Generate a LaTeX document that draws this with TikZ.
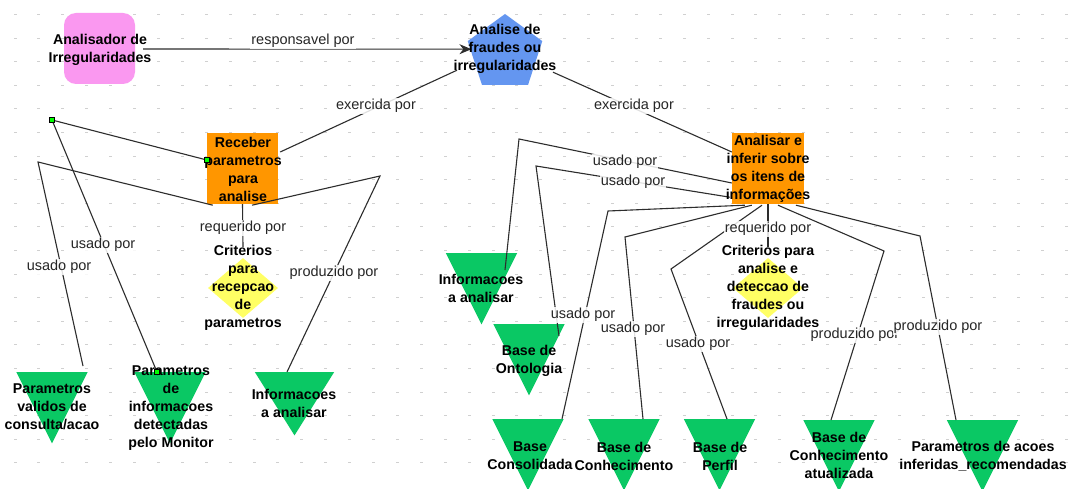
\documentclass[tikz,border=0pt]{standalone}
\usepackage{fontspec}
\setmainfont{Liberation Sans}
\usetikzlibrary{shapes.geometric,arrows.meta,calc}

\definecolor{gridgray}{RGB}{208,208,208}
\definecolor{pinkbox}{RGB}{250,152,240}
\definecolor{bluepent}{RGB}{100,150,240}
\definecolor{orangebox}{RGB}{255,150,0}
\definecolor{yellowdia}{RGB}{255,255,100}
\definecolor{greentri}{RGB}{10,200,100}
\definecolor{edgecol}{RGB}{45,45,45}

\begin{document}
\begin{tikzpicture}[x=1pt,y=-1pt,
  title/.style={font=\bfseries\fontsize{14.2}{18}\selectfont, align=center, inner sep=0pt, text=black},
  lbl/.style={font=\fontsize{14.5}{17}\selectfont, fill=white, fill opacity=0.85, text opacity=1, inner sep=1pt, text=black!85},
  box/.style={rectangle, inner sep=0pt, minimum width=71pt, minimum height=71pt},
  slot/.style={rectangle, inner sep=0pt, minimum width=71pt, minimum height=71pt, anchor=north},
  dia/.style={diamond, inner sep=0pt, minimum width=70pt, minimum height=60pt, fill=yellowdia},
  link/.style={draw=edgecol, line width=1.1pt},
  handle/.style={draw=black, fill=green, minimum size=5pt, inner sep=0pt, line width=0.6pt}
]
\useasboundingbox[fill=white] (0,0) rectangle (1070,489);

% dotted background grid
\foreach \i in {0,...,44}
  \foreach \j in {0,...,19}
    \fill[gridgray] ({15+23.9*\i-1.5},{14+23.6*\j}) rectangle ++(3,1);

% ---- shapes ----
\node[box, rounded corners=12pt, fill=pinkbox] (ana) at (99.5,48.5) {};
\node[regular polygon, regular polygon sides=5, minimum size=78.4pt, inner sep=0pt, fill=bluepent] (pent) at (505,53.2) {};
\node[box, fill=orangebox] (rec) at (242.5,168.5) {};
\node[box, fill=orangebox, minimum width=72pt] (anz) at (768,168.5) {};
\node[dia] (d1) at (243,288) {};
\node[dia] (d2) at (768,288) {};

% frames for the downward triangles
\node[slot] (t1) at (52,372) {};
\node[slot] (t2) at (170,372) {};
\node[slot, minimum width=79pt, minimum height=63pt] (t3) at (294.5,372) {};
\node[slot] (t4) at (481.5,253) {};
\node[slot] (t5) at (529,324) {};
\node[slot] (t6) at (528,419) {};
\node[slot] (t7) at (624,419) {};
\node[slot] (t8) at (719.5,419) {};
\node[slot] (t9) at (839,420) {};
\node[slot] (t10) at (982.5,420) {};
\foreach \t in {t1,t2,t3,t4,t5,t6,t7,t8,t9,t10}
  \fill[greentri] (\t.north west) -- (\t.north east) -- (\t.south) -- cycle;

% ---- bend points ----
\coordinate (b3) at (52,120);
\coordinate (b4) at (38,162);
\coordinate (b5) at (380,176);
\coordinate (b6) at (519,139);
\coordinate (b7) at (536,166);
\coordinate (b8) at (608,211);
\coordinate (b9) at (625,237);
\coordinate (b10) at (671,269);
\coordinate (b11) at (884,251);
\coordinate (b12) at (920,236);

% ---- connectors ----
\draw[link, -{Stealth[length=12pt,width=10pt]}] ($(ana.east)+(8,0.5)$) -- ($(pent.west)+(0,-4)$);
\draw[link] ($(pent.center)+(-48,17)$) -- ($(rec.east)+(2,-16.5)$);
\draw[link] ($(pent.center)+(48,19)$) -- ($(anz.west)+(0,-16.5)$);

\draw[link] ($(t2.north)+(-13,0)$) -- (b3) -- ($(rec.west)+(0,-8.5)$);
\draw[link] ($(t1.north)+(31,-6)$) -- (b4) -- ($(rec.south west)+(6,1)$);
\draw[link] ($(rec.south)+(9.5,1)$) -- (b5) -- ($(t3.north)+(-7.5,0)$);
\draw[link] (rec.south) -- ($(d1.north)+(0,-11)$);

\draw[link] ($(anz.west)+(0,14.5)$) -- (b6) -- ($(t4.north)+(23.5,17)$);
\draw[link] ($(anz.south west)+(-2,-7)$) -- (b7) -- ($(t5.north)+(30,12)$);
\draw[link] ($(anz.south west)+(13,1)$) -- (b8) -- ($(t6.north)+(34,0)$);
\draw[link] ($(anz.south west)+(20,1)$) -- (b9) -- ($(t7.north)+(19,0)$);
\draw[link] ($(anz.south)+(-6,1)$) -- (b10) -- ($(t8.north)+(7.5,0)$);
\draw[link] ($(anz.south)+(10,1)$) -- (b11) -- ($(t9.north)+(-8,0)$);
\draw[link] ($(anz.south)+(28,1)$) -- (b12) -- ($(t10.north)+(-26.5,0)$);
\draw[link] (anz.south) -- ($(d2.north)+(0,-11)$);

% ---- node texts ----
\node[title] (ana-t) at (100,50) {Analisador de\\Irregularidades};
\node[title] (pent-t) at (505,49) {Analise de\\fraudes ou\\irregularidades};
\node[title] (rec-t) at (243,169) {Receber\\parametros\\para\\analise};
\node[title] (anz-t) at (768,169) {Analisar e\\inferir sobre\\os itens de\\informações};
\node[title] (d1-t) at (243,288) {Criterios\\para\\recepcao\\de\\parametros};
\node[title] (d2-t) at (768,288) {Criterios para\\analise e\\deteccao de\\fraudes ou\\irregularidades};
\node[title] (t1-t) at (52,407) {Parametros\\validos de\\consulta/acao};
\node[title] (t2-t) at (171,408) {Parametros\\de\\informacoes\\detectadas\\pelo Monitor};
\node[title] (t3-t) at (294,403) {Informacoes\\a analisar};
\node[title] (t4-t) at (481,288) {Informacoes\\a analisar};
\node[title] (t5-t) at (529,361) {Base de\\Ontologia};
\node[title] (t6-t) at (530,456) {Base\\Consolidada};
\node[title] (t7-t) at (624,456) {Base de\\Conhecimento};
\node[title] (t8-t) at (720,456) {Base de\\Perfil};
\node[title] (t9-t) at (839,455) {Base de\\Conhecimento\\atualizada};
\node[title] (t10-t) at (983,456) {Parametros de acoes\\inferidas\_recomendadas};

% ---- selection handles ----
\node[handle] (h1) at (b3) {};
\node[handle] (h2) at ($(rec.west)+(0,-8.5)$) {};
\node[handle] (h3) at ($(t2.north)+(-13,0)$) {};

% ---- connector labels ----
\node[lbl] (l1) at (303,41) {responsavel por};
\node[lbl] (l2) at (376,106) {exercida por};
\node[lbl] (l3) at (634,106) {exercida por};
\node[lbl] (l4) at (243,228) {requerido por};
\node[lbl] (l5) at (768,229) {requerido por};
\node[lbl] (l6) at (103,245) {usado por};
\node[lbl] (l7) at (59,267) {usado por};
\node[lbl] (l8) at (334,273) {produzido por};
\node[lbl] (l9) at (625,162) {usado por};
\node[lbl] (l10) at (633,182) {usado por};
\node[lbl] (l11) at (583,315) {usado por};
\node[lbl] (l12) at (633,329) {usado por};
\node[lbl] (l13) at (698,344) {usado por};
\node[lbl] (l14) at (855,335) {produzido por};
\node[lbl] (l15) at (938,327) {produzido por};
\end{tikzpicture}
\end{document}
